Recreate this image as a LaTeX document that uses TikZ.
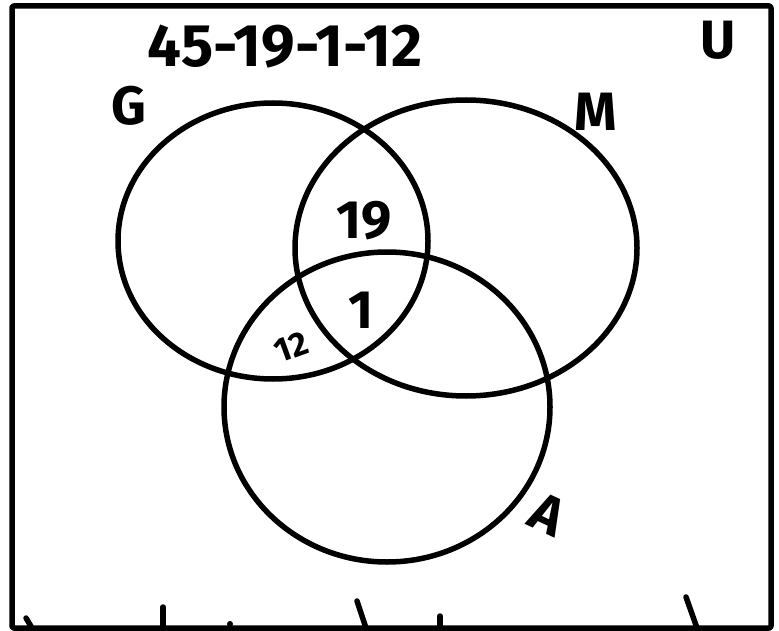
\documentclass[tikz,border=0pt]{standalone}
\usepackage{fontspec}
\setmainfont{Fira Sans}
\usepackage{tikz}
\usetikzlibrary{positioning}

\tikzset{
    pen/.style={line width=5.5pt, line cap=round, line join=round},
    hand/.style={font=\fontsize{54}{60}\selectfont\bfseries, inner sep=0pt},
    small hand/.style={font=\fontsize{34}{40}\selectfont\bfseries, inner sep=0pt}
}

\begin{document}
\begin{tikzpicture}[x=1pt, y=-1pt]
    \useasboundingbox (0,0) rectangle (779,631);

    % universe box
    \draw[pen, rounded corners=2pt] (12,6) rectangle (771,628);
    \foreach \xt/\yt/\xb in {26/618/32, 163/607/163, 357/601/366, 440/616/440, 686/597/697}
        \draw[pen] (\xt,\yt) -- (\xb,628);
    \fill (230,624) circle (3pt);

    % the three sets
    \draw[pen] (273,241) ellipse [x radius=155, y radius=138];
    \draw[pen] (466,248) ellipse [x radius=171, y radius=148];
    \draw[pen] (387,407) ellipse [x radius=163, y radius=155];

    % labels
    \node[hand, font=\fontsize{60}{66}\selectfont\bfseries] (calc) at (285,47) {45-19-1-12};
    \node[hand] (lblU) at (718,40) {U};
    \node[hand] (lblG) at (129,106) {G};
    \node[hand] (lblM) at (596,112) {M};
    \node[hand, rotate=-25] (lblA) at (548,514) {A};
    \node[hand] (nGM) at (364,221) {19};
    \node[hand] (nGMA) at (361,310) {1};
    \node[small hand, rotate=20] (nGA) at (291,347) {12};
\end{tikzpicture}
\end{document}
